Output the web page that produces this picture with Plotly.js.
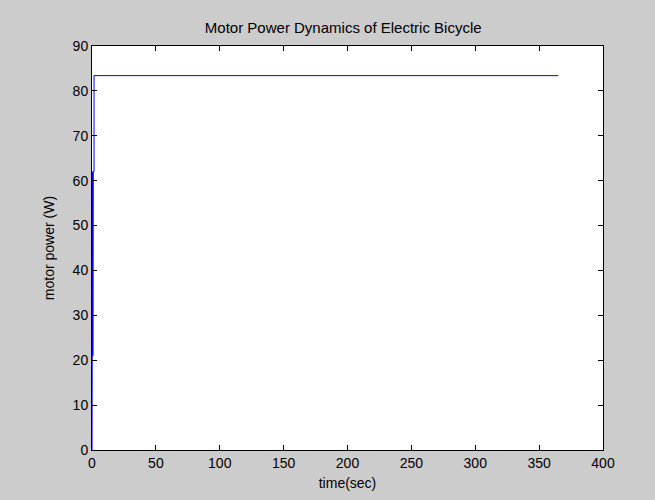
<!DOCTYPE html>
<html>
<head>
<meta charset="utf-8">
<script src="https://cdn.plot.ly/plotly-3.0.1.min.js"></script>
<style>html,body{margin:0;padding:0;background:#cccccc;}</style>
</head>
<body>
<div id="chart" style="width:655px;height:500px;"></div>
<script>
// time (sec) and motor power (W)
var timeSec = [0, 0.05, 0.15, 0.25, 0.35, 0.45, 0.55, 0.65, 0.75, 0.85, 0.95, 1.6, 1.6, 365];
var motorPower = [0, 21, 62, 21, 62, 21, 62, 21, 62, 21, 62, 62, 83.4, 83.4];
var xTicks = [0, 50, 100, 150, 200, 250, 300, 350, 400];
var yTicks = [0, 10, 20, 30, 40, 50, 60, 70, 80, 90];

var fontFam = '"Liberation Sans", Arial, sans-serif';
var axisCommon = {
  showgrid: false, zeroline: false, showline: true, linecolor: '#000', linewidth: 1,
  mirror: 'ticks', ticks: 'inside', ticklen: 5, tickcolor: '#000', tickwidth: 1,
  tickfont: {family: fontFam, size: 14, color: '#000'}
};
var layout = {
  width: 655, height: 500,
  paper_bgcolor: '#cccccc', plot_bgcolor: '#ffffff',
  margin: {l: 92, r: 52, t: 46, b: 50},
  showlegend: false,
  title: {text: 'Motor Power Dynamics of Electric Bicycle', x: 0.524, xanchor: 'center', y: 0.944, yanchor: 'middle',
          font: {family: fontFam, size: 15, color: '#000'}},
  xaxis: Object.assign({}, axisCommon, {range: [0, 400], tickvals: xTicks, ticktext: xTicks.map(String),
          title: {text: 'time(sec)', font: {family: fontFam, size: 14, color: '#000'}, standoff: 8}}),
  yaxis: Object.assign({}, axisCommon, {range: [0, 90], tickvals: yTicks, ticktext: yTicks.map(String),
          title: {text: 'motor power (W)', font: {family: fontFam, size: 14, color: '#000'}, standoff: 14}})
};
var trace = {x: timeSec, y: motorPower, type: 'scatter', mode: 'lines',
  line: {color: '#0000ff', width: 1}, cliponaxis: false};
Plotly.newPlot('chart', [trace], layout, {displayModeBar: false});
</script>
</body>
</html>
